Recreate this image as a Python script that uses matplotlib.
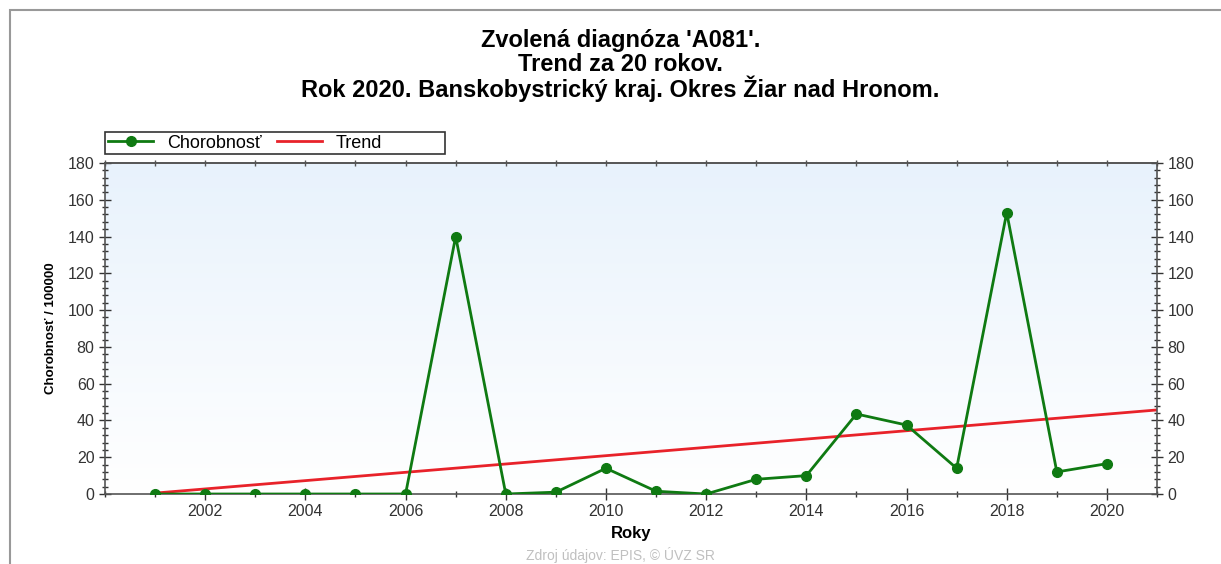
import numpy as np
import matplotlib.pyplot as plt
from matplotlib.ticker import MultipleLocator, FixedLocator
from matplotlib.patches import Rectangle
from matplotlib.colors import LinearSegmentedColormap

plt.rcParams['font.family'] = ['Liberation Sans', 'DejaVu Sans']

# Data
roky = [2001, 2002, 2003, 2004, 2005, 2006, 2007, 2008, 2009, 2010,
        2011, 2012, 2013, 2014, 2015, 2016, 2017, 2018, 2019, 2020]
chorobnost = [0, 0, 0, 0, 0, 0, 140, 0, 1, 14,
              1.5, 0, 8, 10, 43.5, 37.5, 14, 153, 12, 16.5]
trend_x = [2001, 2021]
trend_y = [0.5, 45.7]
x_labels = [2002, 2004, 2006, 2008, 2010, 2012, 2014, 2016, 2018, 2020]

title_lines = ["Zvolená diagnóza 'A081'.",
               "Trend za 20 rokov.",
               "Rok 2020. Banskobystrický kraj. Okres Žiar nad Hronom."]

fig = plt.figure(figsize=(12.21, 5.64), dpi=100)
ax = fig.add_axes([0.086, 0.1241, 0.8616, 0.587])

# svetlomodrý gradient v pozadí
grad = np.linspace(0, 1, 256).reshape(-1, 1)
ax.imshow(grad, extent=[2000, 2021, 0, 180], aspect='auto', origin='lower',
          cmap=LinearSegmentedColormap.from_list('bg', ['#ffffff', '#e8f2fc']),
          zorder=0)

ax.plot(roky, chorobnost, color='#0f7a12', lw=2, marker='o', markersize=7,
        label='Chorobnosť', zorder=3)
ax.plot(trend_x, trend_y, color='#e8222a', lw=2, label='Trend', zorder=2)

ax.set_xlim(2000, 2021)
ax.set_ylim(0, 180)
ax.xaxis.set_major_locator(FixedLocator(x_labels))
ax.xaxis.set_minor_locator(MultipleLocator(1))
ax.yaxis.set_major_locator(MultipleLocator(20))
ax.yaxis.set_minor_locator(MultipleLocator(4))
ax.tick_params(which='both', direction='inout', right=True, top=False,
               labelright=True, colors='#333333', labelsize=11.5)
ax.tick_params(which='major', length=8, width=1)
ax.tick_params(which='minor', length=5, width=1)

# horná os - krátke značky každý rok
top = ax.secondary_xaxis('top')
top.xaxis.set_major_locator(MultipleLocator(1))
top.tick_params(direction='inout', length=4, width=1, labeltop=False,
                colors='#555555')

for s in ax.spines.values():
    s.set_color('#555555')
    s.set_linewidth(1.2)
top.spines['top'].set_color('#555555')
top.spines['top'].set_linewidth(1.2)

ax.set_xlabel('Roky', fontsize=12, fontweight='bold', labelpad=5)
ax.set_ylabel('Chorobnosť / 100000', fontsize=9.5, fontweight='bold', labelpad=8)

# legenda s rámikom širším ako obsah
leg = ax.legend(loc='center left', bbox_to_anchor=(0.003, 1.060), ncol=2,
                frameon=False, fontsize=13, borderpad=0, borderaxespad=0,
                handlelength=2.5, handletextpad=0.75, columnspacing=0.85)
ax.add_patch(Rectangle((0.0, 1.027), 0.323, 0.067, transform=ax.transAxes,
                       fill=False, edgecolor='#333333', lw=1.2, clip_on=False))

# nadpis - tri riadky, pozícia podľa základnej čiary
title_y = [0.9167, 0.8741, 0.828]
for line, ty in zip(title_lines, title_y):
    fig.text(0.508, ty, line, ha='center', va='baseline',
             fontsize=17, fontweight='bold')
fig.text(0.508, 0.016, 'Zdroj údajov: EPIS, © ÚVZ SR', ha='center',
         va='center', fontsize=10, color='#c0c0c0')

# vonkajší rámik
fig.add_artist(Rectangle((0.008, -0.1), 1.1, 1.082, transform=fig.transFigure,
                         fill=False, edgecolor='#999999', lw=1.5))

fig.savefig('out.png', dpi=100)
